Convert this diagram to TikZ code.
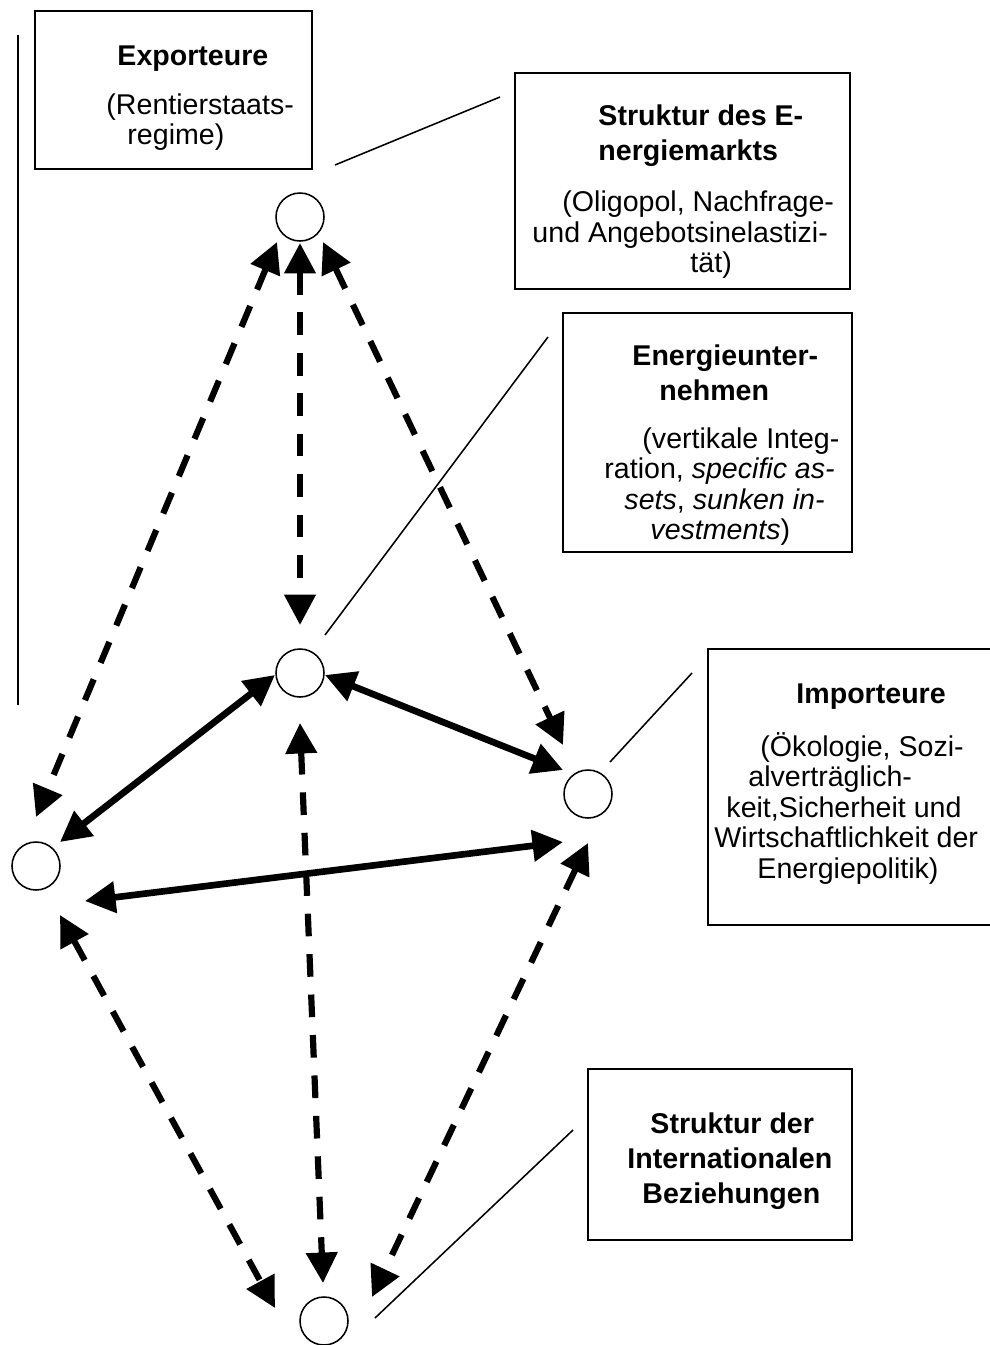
\documentclass[tikz,border=0pt]{standalone}
\usepackage{fontspec}
\setmainfont{Liberation Sans}
\usetikzlibrary{arrows.meta, calc}

\newdimen\pxu \pxu=0.42pt
\newcommand{\topstrut}{\rule{0pt}{12pt}}

\tikzset{
  dot/.style={circle, draw, line width=0.65pt, minimum size=48\pxu, inner sep=0pt, outer sep=0pt},
  infobox/.style={draw, line width=0.65pt, inner sep=0pt, outer sep=0pt, anchor=north west},
  infotext/.style={anchor=north west, inner sep=0pt, align=left, font=\fontsize{12}{12.8}\selectfont},
  pointer/.style={line width=0.65pt},
  duo/.style={line width=2.8pt, >={Triangle[length=12.8pt,width=12.8pt]}, <->},
  dashduo/.style={duo, line width=2.6pt, dash pattern=on 9.5pt off 7.5pt},
}

\begin{document}
\begin{tikzpicture}[x=0.42pt, y=-0.42pt]
    \useasboundingbox (0,0) rectangle (990,1345);
    \clip (0,0) rectangle (990,1345);

    % the five actors
    \node[dot] (ctop) at (300,217) {};
    \node[dot] (cmid) at (300,673) {};
    \node[dot] (cright) at (588,794) {};
    \node[dot] (cleft) at (36,866) {};
    \node[dot] (cbot) at (324,1321) {};

    % boxes
    \node[infobox, minimum width=277\pxu, minimum height=158\pxu] (exbox) at (35,11) {};
    \node[infobox, minimum width=335\pxu, minimum height=216\pxu] (smbox) at (515,73) {};
    \node[infobox, minimum width=289\pxu, minimum height=239\pxu] (enbox) at (563,313) {};
    \node[infobox, minimum width=300\pxu, minimum height=276\pxu] (imbox) at (708,649) {};
    \node[infobox, minimum width=264\pxu, minimum height=171\pxu] (ibbox) at (588,1069) {};

    \node[infotext] (extext) at (106,36) {%
        \hspace*{11\pxu}\textbf{Exporteure}\topstrut\\[7.8pt]%
        (Rentierstaats-\\%
        \hspace*{21\pxu}regime)};
    \node[infotext] (smtext) at (532,96) {%
        \hspace*{66\pxu}\textbf{Struktur des E-}\topstrut\\[1.9pt]%
        \hspace*{66\pxu}\textbf{nergiemarkts}\\[8.9pt]%
        \hspace*{30\pxu}(Oligopol, Nachfrage-\\%
        und Angebotsinelastizi-\\%
        \hspace*{158\pxu}tät)};
    \node[infotext] (entext) at (604,336) {%
        \hspace*{28\pxu}\textbf{Energieunter-}\topstrut\\[1.9pt]%
        \hspace*{55\pxu}\textbf{nehmen}\\[7.4pt]%
        \hspace*{38\pxu}(vertikale Integ-\\%
        ration, \textit{specific as-}\\%
        \hspace*{20\pxu}\textit{sets}, \textit{sunken in-}\\%
        \hspace*{46\pxu}\textit{vestments})};
    \node[infotext] (imtext) at (712,674) {%
        \hspace*{84\pxu}\textbf{Importeure}\topstrut\\[9.5pt]%
        \hspace*{48\pxu}(Ökologie, Sozi-\\%
        \hspace*{36\pxu}alverträglich-\\%
        \hspace*{14\pxu}keit,Sicherheit und\\%
        \hspace*{2\pxu}Wirtschaftlichkeit der\\%
        \hspace*{45\pxu}Energiepolitik)};
    \node[infotext] (ibtext) at (627,1104) {%
        \hspace*{23\pxu}\textbf{Struktur der}\topstrut\\[1.9pt]%
        \textbf{Internationalen}\\[1.9pt]%
        \hspace*{15\pxu}\textbf{Beziehungen}};

    % thin pointers
    \draw[pointer] (18,35) -- (18,705);
    \draw[pointer] ($(ctop)+(35,-52)$) -- ($(smbox.north west)+(-15,24)$);
    \draw[pointer] ($(cmid)+(25,-38)$) -- ($(enbox.north west)+(-15,24)$);
    \draw[pointer] ($(cright)+(22,-32)$) -- ($(imbox.north west)+(-16,24)$);
    \draw[pointer] ($(cbot)+(51,-3)$) -- ($(ibbox.north west)+(-15,61)$);

    % dashed relations
    \draw[dashduo] ($(ctop)+(-23,25)$) -- ($(cleft)+(0,-49)$);
    \draw[dashduo] ($(ctop)+(0,26)$) -- ($(cmid)+(0,-48)$);
    \draw[dashduo] ($(ctop)+(23,25)$) -- ($(cright)+(-25,-49)$);
    \draw[dashduo] ($(cleft)+(24,49)$) -- ($(cbot)+(-49,-13)$);
    \draw[dashduo] ($(cmid)+(0,50)$) -- ($(cbot)+(-1,-38)$);
    \draw[dashduo] ($(cright)+(0,49)$) -- ($(cbot)+(48,-24)$);

    % solid relations
    \draw[duo] ($(cleft)+(24,-24)$) -- ($(cmid)+(-25,2)$);
    \draw[duo] ($(cmid)+(25,2)$) -- ($(cright)+(-25,-24)$);
    \draw[duo] ($(cleft)+(49,35)$) -- ($(cright)+(-25,48)$);
\end{tikzpicture}
\end{document}
